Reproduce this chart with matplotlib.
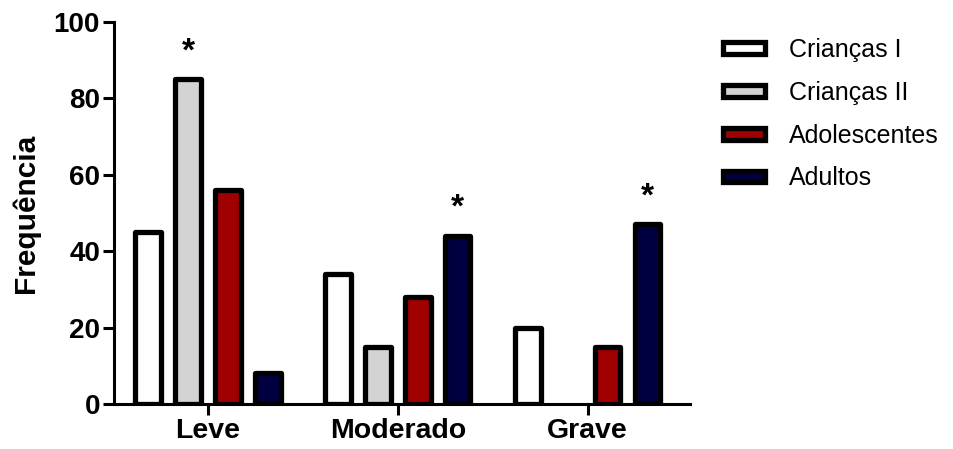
import numpy as np
import matplotlib
matplotlib.use("Agg")
import matplotlib.pyplot as plt

# ------------------------------------------- DATA ------------------------------------------- #

categories = ["Leve", "Moderado", "Grave"]
groups = ["Crianças I", "Crianças II", "Adolescentes", "Adultos"]

criancas_1 = [45, 34, 20]
criancas_2 = [85, 15, 0]
adolescentes = [56, 28, 15]
adultos = [8, 44, 47]

# which bars get a significance star: (group index, category index)
stars = [(1, 0), (3, 1), (3, 2)]

y_ticks = [0, 20, 40, 60, 80, 100]

# ------------------------------------------------------------------------------------------- #

colors = ["#FFFFFF", "#D3D3D3", "#A00000", "#000040"]
series = [criancas_1, criancas_2, adolescentes, adultos]

plt.rcParams["font.family"] = ["Liberation Sans", "DejaVu Sans"]

fig = plt.figure(figsize=(9.54, 4.49), dpi=100)
ax = fig.add_axes([0.1195, 0.1002, 0.604, 0.851])

x = np.arange(len(categories))
pitch = 0.21
width = 0.135

for i, (vals, color, label) in enumerate(zip(series, colors, groups)):
    offs = (i - 1.5) * pitch
    lws = [0 if v == 0 else 3.8 for v in vals]
    ax.bar(
        x + offs,
        vals,
        width=width,
        color=color,
        edgecolor="black",
        linewidth=lws,
        label=label,
        joinstyle="round",
        zorder=3,
    )

for gi, ci in stars:
    ax.text(
        x[ci] + (gi - 1.5) * pitch,
        series[gi][ci] + 5,
        "*",
        ha="center",
        va="baseline",
        fontsize=24,
        fontweight="bold",
    )

ax.set_xlim(-0.495, 2.54)
ax.set_ylim(0, 100)
ax.set_xticks(x)
ax.set_xticklabels(categories, fontsize=20.5, fontweight="bold")
ax.set_yticks(y_ticks)
ax.set_yticklabels([str(t) for t in y_ticks], fontsize=20, fontweight="bold")
ax.set_ylabel("Frequência", fontsize=21.5, fontweight="bold", labelpad=10)

for side in ["top", "right"]:
    ax.spines[side].set_visible(False)
for side in ["left", "bottom"]:
    ax.spines[side].set_linewidth(2.2)
ax.tick_params(axis="both", width=2.2, length=8, pad=2)

leg = ax.legend(
    loc="upper left",
    bbox_to_anchor=(0.734, 0.965),
    bbox_transform=fig.transFigure,
    frameon=False,
    fontsize=18,
    handlelength=1.7,
    handleheight=0.34,
    handletextpad=0.95,
    labelspacing=0.75,
)

fig.savefig("out.png", dpi=100)
